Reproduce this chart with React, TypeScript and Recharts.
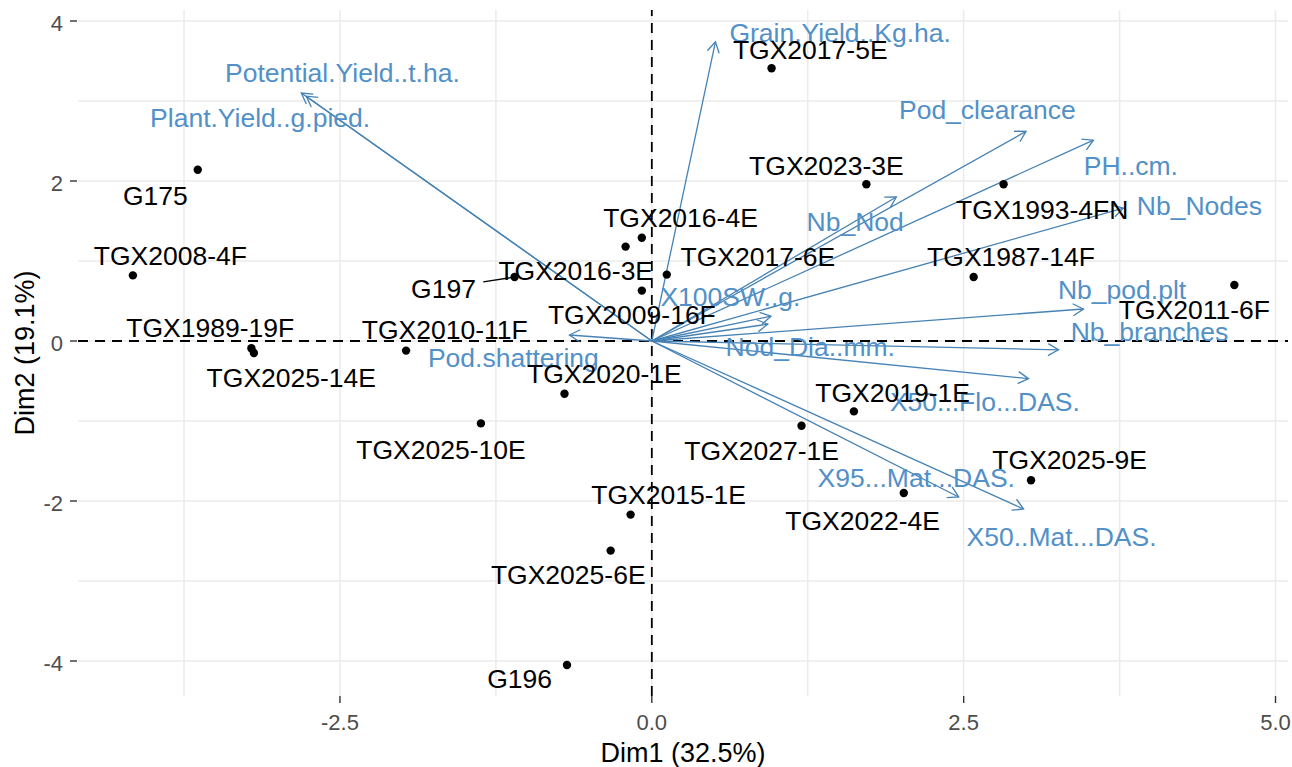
import React from 'react';
import { ScatterChart, Scatter, XAxis, YAxis, CartesianGrid, ReferenceLine } from 'recharts';

// Individuals (genotypes): coordinates on the first two dimensions
const genotypes = [
  'G175', 'TGX2008-4F', 'TGX1989-19F', 'TGX2025-14E', 'TGX2010-11F', 'G197',
  'TGX2016-4E', 'TGX2016-3E', 'TGX2017-6E', 'TGX2009-16F', 'TGX2020-1E', 'TGX2025-10E',
  'TGX2027-1E', 'TGX2019-1E', 'TGX2015-1E', 'TGX2025-6E', 'G196', 'TGX2022-4E',
  'TGX2025-9E', 'TGX2011-6F', 'TGX1987-14F', 'TGX1993-4FN', 'TGX2023-3E', 'TGX2017-5E',
];
const genoDim1 = [
  -3.64, -4.16, -3.21, -3.19, -1.97, -1.10,
  -0.08, -0.21, 0.12, -0.08, -0.70, -1.37,
  1.20, 1.62, -0.17, -0.33, -0.68, 2.02,
  3.04, 4.67, 2.58, 2.82, 1.72, 0.96,
];
const genoDim2 = [
  2.14, 0.82, -0.09, -0.15, -0.12, 0.80,
  1.29, 1.18, 0.83, 0.63, -0.66, -1.03,
  -1.06, -0.88, -2.17, -2.62, -4.05, -1.90,
  -1.74, 0.70, 0.80, 1.96, 1.96, 3.41,
];
// Repelled text positions of the genotype names
const genoLabelDim1 = [
  -3.98, -3.86, -3.54, -2.89, -1.66, -1.67,
  0.23, -0.61, 0.85, -0.16, -0.38, -1.69,
  0.88, 1.93, 0.135, -0.67, -1.06, 1.69,
  3.35, 4.35, 2.88, 3.13, 1.40, 1.27,
];
const genoLabelDim2 = [
  1.825, 1.075, 0.17, -0.45, 0.14, 0.66,
  1.545, 0.885, 1.055, 0.335, -0.405, -1.36,
  -1.365, -0.64, -1.915, -2.92, -4.215, -2.24,
  -1.485, 0.40, 1.06, 1.65, 2.20, 3.65,
];
// Names whose text sits far enough from the point to get a leader segment
const leaderNames = ['G197'];

// Variables: arrow tips (correlation loadings, scaled) and label positions
const variables = [
  'Potential.Yield..t.ha.', 'Plant.Yield..g.pied.', 'Grain.Yield..Kg.ha.', 'Pod_clearance',
  'PH..cm.', 'Nb_Nodes', 'Nb_Nod', 'Nb_pod.plt', 'Nb_branches', 'X50...Flo...DAS.',
  'X95...Mat...DAS.', 'X50..Mat...DAS.', 'X100SW..g.', 'Nod_Dia..mm.', 'Pod.shattering',
];
const varDim1 = [-2.81, -2.77, 0.51, 3.00, 3.54, 3.78, 1.96, 3.46, 3.26, 3.02, 2.46, 2.98, 0.955, 0.93, -0.66];
const varDim2 = [3.10, 3.06, 3.74, 2.62, 2.51, 1.66, 1.80, 0.40, -0.11, -0.47, -1.95, -2.10, 0.31, 0.21, 0.075];
const varLabelDim1 = [-2.48, -3.14, 1.51, 2.69, 3.84, 4.39, 1.63, 3.77, 3.99, 2.67, 2.12, 3.285, 0.63, 1.27, -1.11];
const varLabelDim2 = [3.355, 2.80, 3.86, 2.89, 2.20, 1.70, 1.50, 0.65, 0.115, -0.76, -1.71, -2.44, 0.56, -0.065, -0.21];

// Axes
const xDomain = [-4.6, 5.1];
const yDomain = [-4.4375, 4.1375];
const xMajor = [-2.5, 0, 2.5, 5];
const xGrid = [-3.75, -2.5, -1.25, 0, 1.25, 2.5, 3.75, 5];
const yMajor = [-4, -2, 0, 2, 4];
const yGrid = [-4, -3, -2, -1, 0, 1, 2, 3, 4];
const xTitle = 'Dim1 (32.5%)';
const yTitle = 'Dim2 (19.1%)';

const FONT = '"Liberation Sans", Arial, Helvetica, sans-serif';
const VAR_LINE = '#4682B4';
const VAR_TEXT = '#5290C8';

const points = genotypes.map((name, i) => ({ name, x: genoDim1[i], y: genoDim2[i] }));
const pointLabels = genotypes.map((name, i) => ({ name, x: genoLabelDim1[i], y: genoLabelDim2[i] }));
const varLabels = variables.map((name, i) => ({ name, x: varLabelDim1[i], y: varLabelDim2[i] }));

const XTick = (p: any) => {
  const v = p.payload.value;
  if (!xMajor.includes(v)) return <g />;
  return (
    <g>
      <line x1={p.x} x2={p.x} y1={p.y} y2={p.y + 7} stroke="#333" strokeWidth={1.4} />
      <text x={p.x} y={p.y + 18} dy="0.71em" textAnchor="middle" fontSize={22} fill="#4D4D4D" fontFamily={FONT}>
        {v.toFixed(1)}
      </text>
    </g>
  );
};

const YTick = (p: any) => {
  const v = p.payload.value;
  if (!yMajor.includes(v)) return <g />;
  return (
    <g>
      <line x1={p.x - 8} x2={p.x - 1} y1={p.y} y2={p.y} stroke="#333" strokeWidth={1.4} />
      <text x={p.x - 15} y={p.y + 2} dy="0.36em" textAnchor="end" fontSize={22} fill="#4D4D4D" fontFamily={FONT}>
        {String(v)}
      </text>
    </g>
  );
};

const Arrow = (p: any) => {
  const { x1, y1, x2, y2 } = p;
  const ang = Math.atan2(y2 - y1, x2 - x1);
  const len = 12;
  const spread = Math.PI / 6;
  const ax1 = x2 - len * Math.cos(ang - spread);
  const ay1 = y2 - len * Math.sin(ang - spread);
  const ax2 = x2 - len * Math.cos(ang + spread);
  const ay2 = y2 - len * Math.sin(ang + spread);
  return (
    <g>
      <line x1={x1} y1={y1} x2={x2} y2={y2} stroke={VAR_LINE} strokeWidth={1.3} />
      <polyline points={`${ax1},${ay1} ${x2},${y2} ${ax2},${ay2}`} fill="none" stroke={VAR_LINE} strokeWidth={1.3} />
    </g>
  );
};

const Dot = (p: any) => <circle cx={p.cx} cy={p.cy} r={4.2} fill="#000" />;

const GenoText = (p: any) => (
  <text x={p.cx} y={p.cy} dy="0.36em" textAnchor="middle" fontSize={26.5} fill="#000" fontFamily={FONT}>
    {p.payload.name}
  </text>
);

const VarText = (p: any) => (
  <text x={p.cx} y={p.cy} dy="0.36em" textAnchor="middle" fontSize={26.5} fill={VAR_TEXT} fontFamily={FONT}>
    {p.payload.name}
  </text>
);

export default function App() {
  return (
    <div style={{ position: 'absolute', left: 0, top: 0, background: '#fff' }}>
      <ScatterChart width={1292} height={767} margin={{ top: 10, right: 4, bottom: 31, left: 18 }}>
        <CartesianGrid stroke="#EBEBEB" strokeWidth={1.5} verticalValues={xGrid} horizontalValues={yGrid} />
        <XAxis
          type="number"
          dataKey="x"
          domain={xDomain}
          allowDataOverflow
          ticks={xGrid}
          interval={0}
          height={40}
          axisLine={false}
          tickLine={false}
          tickSize={0}
          tickMargin={0}
          tick={XTick}
          label={{
            content: (lp: any) => {
              const vb = lp.viewBox;
              return (
                <text x={vb.x + vb.width / 2} y={vb.y + 56.5} dy="0.36em" textAnchor="middle" fontSize={27} fill="#000" fontFamily={FONT}>
                  {xTitle}
                </text>
              );
            },
          }}
        />
        <YAxis
          type="number"
          dataKey="y"
          domain={yDomain}
          allowDataOverflow
          ticks={yGrid}
          interval={0}
          width={60}
          axisLine={false}
          tickLine={false}
          tickSize={0}
          tickMargin={0}
          tick={YTick}
          label={{
            content: (lp: any) => {
              const vb = lp.viewBox;
              const cx = vb.x + 6;
              const cy = vb.y + vb.height / 2;
              return (
                <text x={cx} y={cy} dy="0.36em" textAnchor="middle" fontSize={27} fill="#000" fontFamily={FONT} transform={`rotate(-90, ${cx}, ${cy})`}>
                  {yTitle}
                </text>
              );
            },
          }}
        />
        <ReferenceLine x={0} stroke="#000" strokeWidth={1.8} strokeDasharray="10 7" />
        <ReferenceLine y={0} stroke="#000" strokeWidth={1.8} strokeDasharray="10 7" />
        {variables.map((name, i) => (
          <ReferenceLine
            key={name}
            segment={[{ x: 0, y: 0 }, { x: varDim1[i], y: varDim2[i] }]}
            shape={Arrow}
          />
        ))}
        {genotypes.filter((n) => leaderNames.includes(n)).map((name) => {
          const i = genotypes.indexOf(name);
          const t = 0.56;
          const sx = genoLabelDim1[i] + (genoDim1[i] - genoLabelDim1[i]) * t;
          const sy = genoLabelDim2[i] + (genoDim2[i] - genoLabelDim2[i]) * t;
          return (
            <ReferenceLine
              key={`seg-${name}`}
              segment={[{ x: sx, y: sy }, { x: genoDim1[i], y: genoDim2[i] }]}
              stroke="#000"
              strokeWidth={1.3}
            />
          );
        })}
        <Scatter data={points} shape={Dot} isAnimationActive={false} />
        <Scatter data={varLabels} shape={VarText} isAnimationActive={false} />
        <Scatter data={pointLabels} shape={GenoText} isAnimationActive={false} />
      </ScatterChart>
    </div>
  );
}
